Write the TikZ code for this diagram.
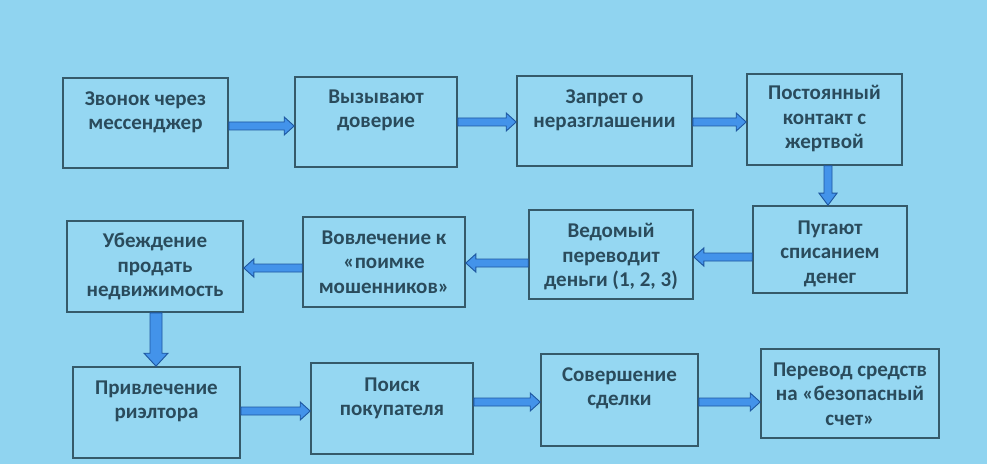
\documentclass[tikz,border=0pt]{standalone}
\usepackage{fontspec}
\setmainfont{Carlito}
\usetikzlibrary{calc}
\definecolor{bg}{HTML}{90D4F0}
\definecolor{boxfill}{HTML}{95D7F2}
\definecolor{boxline}{HTML}{355A6A}
\definecolor{txt}{HTML}{2A4B5C}
\definecolor{arrfill}{HTML}{4393EA}
\definecolor{arrline}{HTML}{1D569F}
\tikzset{
 box/.style={draw=boxline, line width=1.6pt, fill=boxfill, inner sep=0pt},
 lbl/.style={anchor=north, text=txt, align=center, font=\fontsize{21}{24.5}\selectfont\bfseries, inner sep=0pt},
 barrow/.style={fill=arrfill, draw=arrline, line width=0.9pt, line join=miter},
}
% right arrow: from anchor #1 to anchor #2 at height #3
\newcommand\myR[3]{\path[barrow] let \p1=(#1), \p2=(#2) in
 (\x1,#3pt+4pt) -- (\x2-10pt,#3pt+4pt) -- (\x2-10pt,#3pt+9pt) -- (\x2,#3pt) --
 (\x2-10pt,#3pt-9pt) -- (\x2-10pt,#3pt-4pt) -- (\x1,#3pt-4pt) -- cycle;}
% left arrow
\newcommand\myL[3]{\path[barrow] let \p1=(#1), \p2=(#2) in
 (\x1,#3pt+4pt) -- (\x2+10pt,#3pt+4pt) -- (\x2+10pt,#3pt+9pt) -- (\x2,#3pt) --
 (\x2+10pt,#3pt-9pt) -- (\x2+10pt,#3pt-4pt) -- (\x1,#3pt-4pt) -- cycle;}
% down arrow: #3 x position, #4 shaft half width, #5 head half width, #6 head length
\newcommand\myD[6]{\path[barrow] let \p1=(#1), \p2=(#2) in
 (#3pt-#4pt,\y1) -- (#3pt-#4pt,\y2+#6pt) -- (#3pt-#5pt,\y2+#6pt) -- (#3pt,\y2) --
 (#3pt+#5pt,\y2+#6pt) -- (#3pt+#4pt,\y2+#6pt) -- (#3pt+#4pt,\y1) -- cycle;}
\begin{document}
\begin{tikzpicture}[x=1pt,y=1pt]
\useasboundingbox (0,0) rectangle (987,464);
\fill[bg] (0,0) rectangle (987,464);

\node[box, minimum width=165pt, minimum height=90pt] (b1) at (145.5,341) {};
\node[box, minimum width=162pt, minimum height=90pt] (b2) at (376,342) {};
\node[box, minimum width=175pt, minimum height=90pt] (b3) at (604.5,343) {};
\node[box, minimum width=155pt, minimum height=91pt] (b4) at (824.5,344.5) {};
\node[box, minimum width=154pt, minimum height=87pt] (b5) at (830,214.5) {};
\node[box, minimum width=164pt, minimum height=89pt] (b6) at (611,209.5) {};
\node[box, minimum width=162pt, minimum height=90pt] (b7) at (384,202) {};
\node[box, minimum width=176pt, minimum height=91pt] (b8) at (155,197.5) {};
\node[box, minimum width=167pt, minimum height=91pt] (b9) at (156.5,51.5) {};
\node[box, minimum width=162pt, minimum height=91pt] (b10) at (392,55.5) {};
\node[box, minimum width=157pt, minimum height=92pt] (b11) at (619.5,64) {};
\node[box, minimum width=178pt, minimum height=89pt] (b12) at (850,70.5) {};

\node[lbl] (t1) at ([yshift=-14pt]b1.north) {Звонок через\\мессенджер};
\node[lbl] (t2) at ([yshift=-13pt]b2.north) {Вызывают\\доверие};
\node[lbl] (t3) at ([yshift=-14pt]b3.north) {Запрет о\\неразглашении};
\node[lbl] (t4) at ([yshift=-12pt]b4.north) {Постоянный\\контакт с\\жертвой};
\node[lbl] (t5) at ([yshift=-15pt]b5.north) {Пугают\\списанием\\денег};
\node[lbl] (t6) at ([yshift=-14pt]b6.north) {Ведомый\\переводит\\деньги (1, 2, 3)};
\node[lbl] (t7) at ([yshift=-14pt]b7.north) {Вовлечение к\\«поимке\\мошенников»};
\node[lbl] (t8) at ([yshift=-13pt]b8.north) {Убеждение\\продать\\недвижимость};
\node[lbl] (t9) at ([yshift=-14pt]b9.north) {Привлечение\\риэлтора};
\node[lbl] (t10) at ([yshift=-15pt]b10.north) {Поиск\\покупателя};
\node[lbl] (t11) at ([yshift=-14pt]b11.north) {Совершение\\сделки};
\node[lbl] (t12) at ([yshift=-14pt]b12.north) {Перевод средств\\на «безопасный\\счет»};

\myR{b1.east}{b2.west}{338}
\myR{b2.east}{b3.west}{342}
\myR{b3.east}{b4.west}{342}
\myD{b4.south}{b5.north}{828}{4}{9}{12}
\myL{b5.west}{b6.east}{207}
\myL{b6.west}{b7.east}{201}
\myL{b7.west}{b8.east}{196}
\myD{b8.south}{b9.north}{156}{6}{12}{13}
\myR{b9.east}{b10.west}{53}
\myR{b10.east}{b11.west}{62}
\myR{b11.east}{b12.west}{62}
\end{tikzpicture}
\end{document}
